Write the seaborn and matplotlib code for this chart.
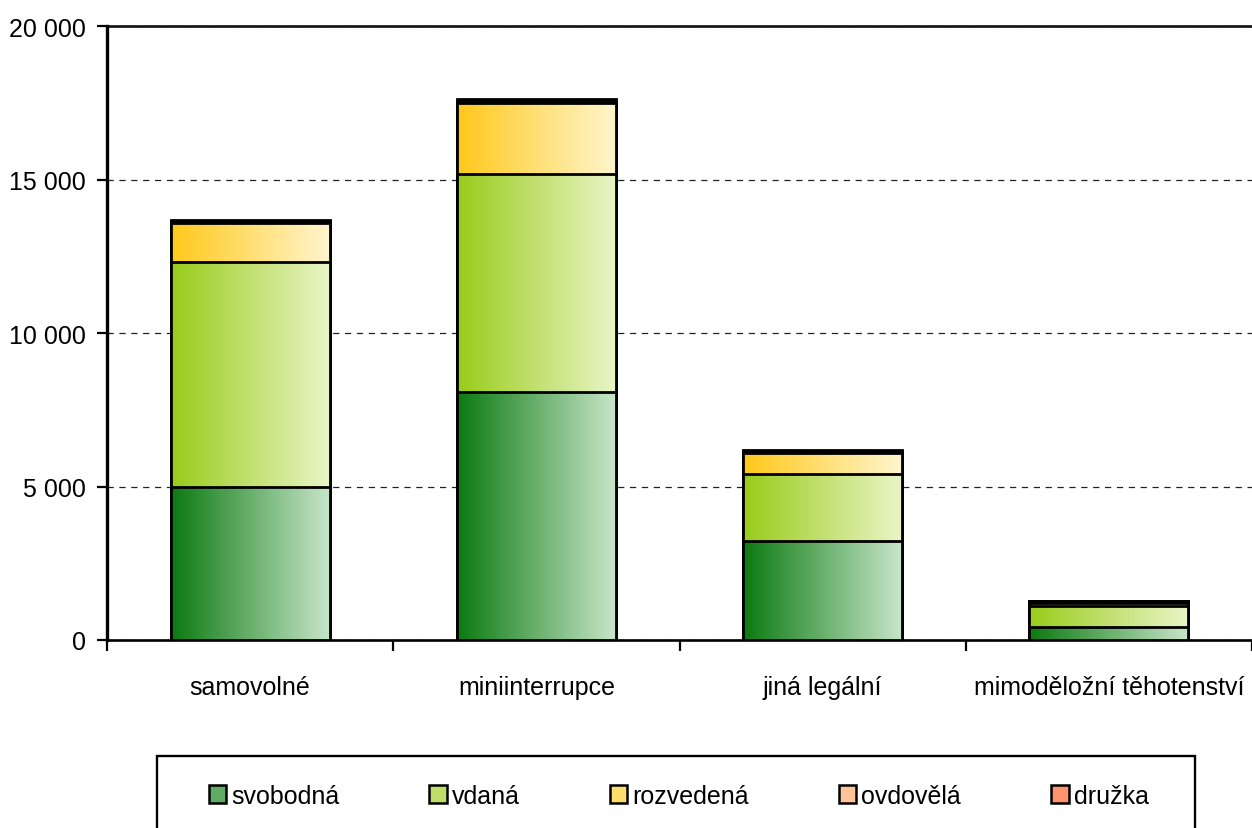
import numpy as np
import pandas as pd
import matplotlib
matplotlib.use('Agg')
import matplotlib.pyplot as plt
import seaborn as sns
from matplotlib.colors import LinearSegmentedColormap
from matplotlib.patches import Patch, Rectangle
from matplotlib.ticker import FuncFormatter, FixedLocator

# data
categories = ['samovolné', 'miniinterrupce', 'jiná legální', 'mimoděložní těhotenství']
series_names = ['svobodná', 'vdaná', 'rozvedená', 'ovdovělá', 'družka']
svobodna = [4980, 8070, 3220, 430]
vdana = [7330, 7110, 2180, 670]
rozvedena = [1280, 2300, 690, 120]
ovdovela = [70, 90, 55, 40]
druzka = [30, 40, 30, 20]

# gradient colours (left dark -> right light) per series
grad_colors = [('#0b7a10', '#c9e6cb'),
               ('#99cc1a', '#eaf5c8'),
               ('#ffc81a', '#fff6cf'),
               ('#ffaa66', '#ffe6d6'),
               ('#ff6a3d', '#ffc4aa')]

sns.set_theme(style='white')
plt.rcParams['font.family'] = ['Liberation Sans', 'DejaVu Sans']
plt.rcParams['text.color'] = 'black'

df = pd.DataFrame({'kategorie': categories, 'svobodná': svobodna, 'vdaná': vdana,
                   'rozvedená': rozvedena, 'ovdovělá': ovdovela, 'družka': druzka})
cum = df[series_names].cumsum(axis=1)

fig = plt.figure(figsize=(12.52, 8.29), dpi=100)
ax = fig.add_axes([107 / 1252, 1 - 641 / 829, 1 - 107 / 1252, (641 - 27) / 829])

ramp = np.linspace(0, 1, 256).reshape(1, -1)
# draw cumulative totals back to front so every segment shows
for k in range(len(series_names) - 1, -1, -1):
    name = series_names[k]
    n_before = len(ax.patches)
    sns.barplot(x=df['kategorie'], y=cum[name], ax=ax, color=grad_colors[k][0],
                saturation=1, width=0.556, edgecolor='black', linewidth=2.0)
    z = 2 + 2 * (len(series_names) - k)
    cmap = LinearSegmentedColormap.from_list(name, grad_colors[k])
    for p in ax.patches[n_before:]:
        p.set_facecolor('none')
        p.set_zorder(z + 1)
        x0, y0 = p.get_x(), p.get_y()
        w, h = p.get_width(), p.get_height()
        im = ax.imshow(ramp, extent=[x0, x0 + w, y0, y0 + h], aspect='auto',
                       cmap=cmap, zorder=z, interpolation='bilinear')
        im.set_clip_path(p)

ax.set_xlim(-0.5, 3.5)
ax.set_ylim(0, 20000)
ax.set_xlabel('')
ax.set_ylabel('')

ax.yaxis.set_major_locator(FixedLocator([0, 5000, 10000, 15000, 20000]))
ax.yaxis.set_major_formatter(FuncFormatter(lambda v, p: f'{int(v):,}'.replace(',', ' ')))
ax.yaxis.grid(True, linestyle=(0, (5, 4.5)), color='#222222', linewidth=0.9)
ax.set_axisbelow(True)

ax.set_xticks(range(len(categories)))
ax.set_xticklabels(categories)
ax.set_xticks([-0.5, 0.5, 1.5, 2.5, 3.5], minor=True)
ax.tick_params(axis='x', which='major', length=0, pad=25, labelsize=18, colors='black')
ax.tick_params(axis='x', which='minor', length=8, width=1.6, direction='out',
               bottom=True, color='black')
ax.tick_params(axis='y', which='major', length=7, width=1.6, direction='out',
               left=True, pad=8, labelsize=18, colors='black')

for side in ['top', 'right']:
    ax.spines[side].set_visible(False)
ax.spines['left'].set_linewidth(2.4)
ax.spines['left'].set_color('black')
ax.spines['bottom'].set_linewidth(1.9)
ax.spines['bottom'].set_color('black')
ax.axhline(20000, color='#111111', linewidth=1.9, clip_on=False, zorder=1)

# legend box, cut off at the bottom edge like the original
fig.patches.append(Rectangle((157 / 1252, -0.05), (1195 - 157) / 1252, 0.05 + 1 - 757 / 829,
                             transform=fig.transFigure, fill=False, edgecolor='black',
                             linewidth=1.7, clip_on=False))
mid = [LinearSegmentedColormap.from_list('m', c)(0.45) for c in grad_colors]
handles = [Patch(facecolor=mid[i], edgecolor='black', linewidth=1.8, label=series_names[i])
           for i in range(len(series_names))]
leg = fig.legend(handles=handles, loc='center', bbox_to_anchor=(0.542, 1 - 797 / 829), ncol=5,
                 frameon=False, handlelength=0.7, handleheight=0.75,
                 handletextpad=0.2, columnspacing=3.6,
                 prop={'family': ['Liberation Sans'], 'size': 18})
for t in leg.get_texts():
    t.set_color('black')

fig.savefig('out.png', dpi=100)
